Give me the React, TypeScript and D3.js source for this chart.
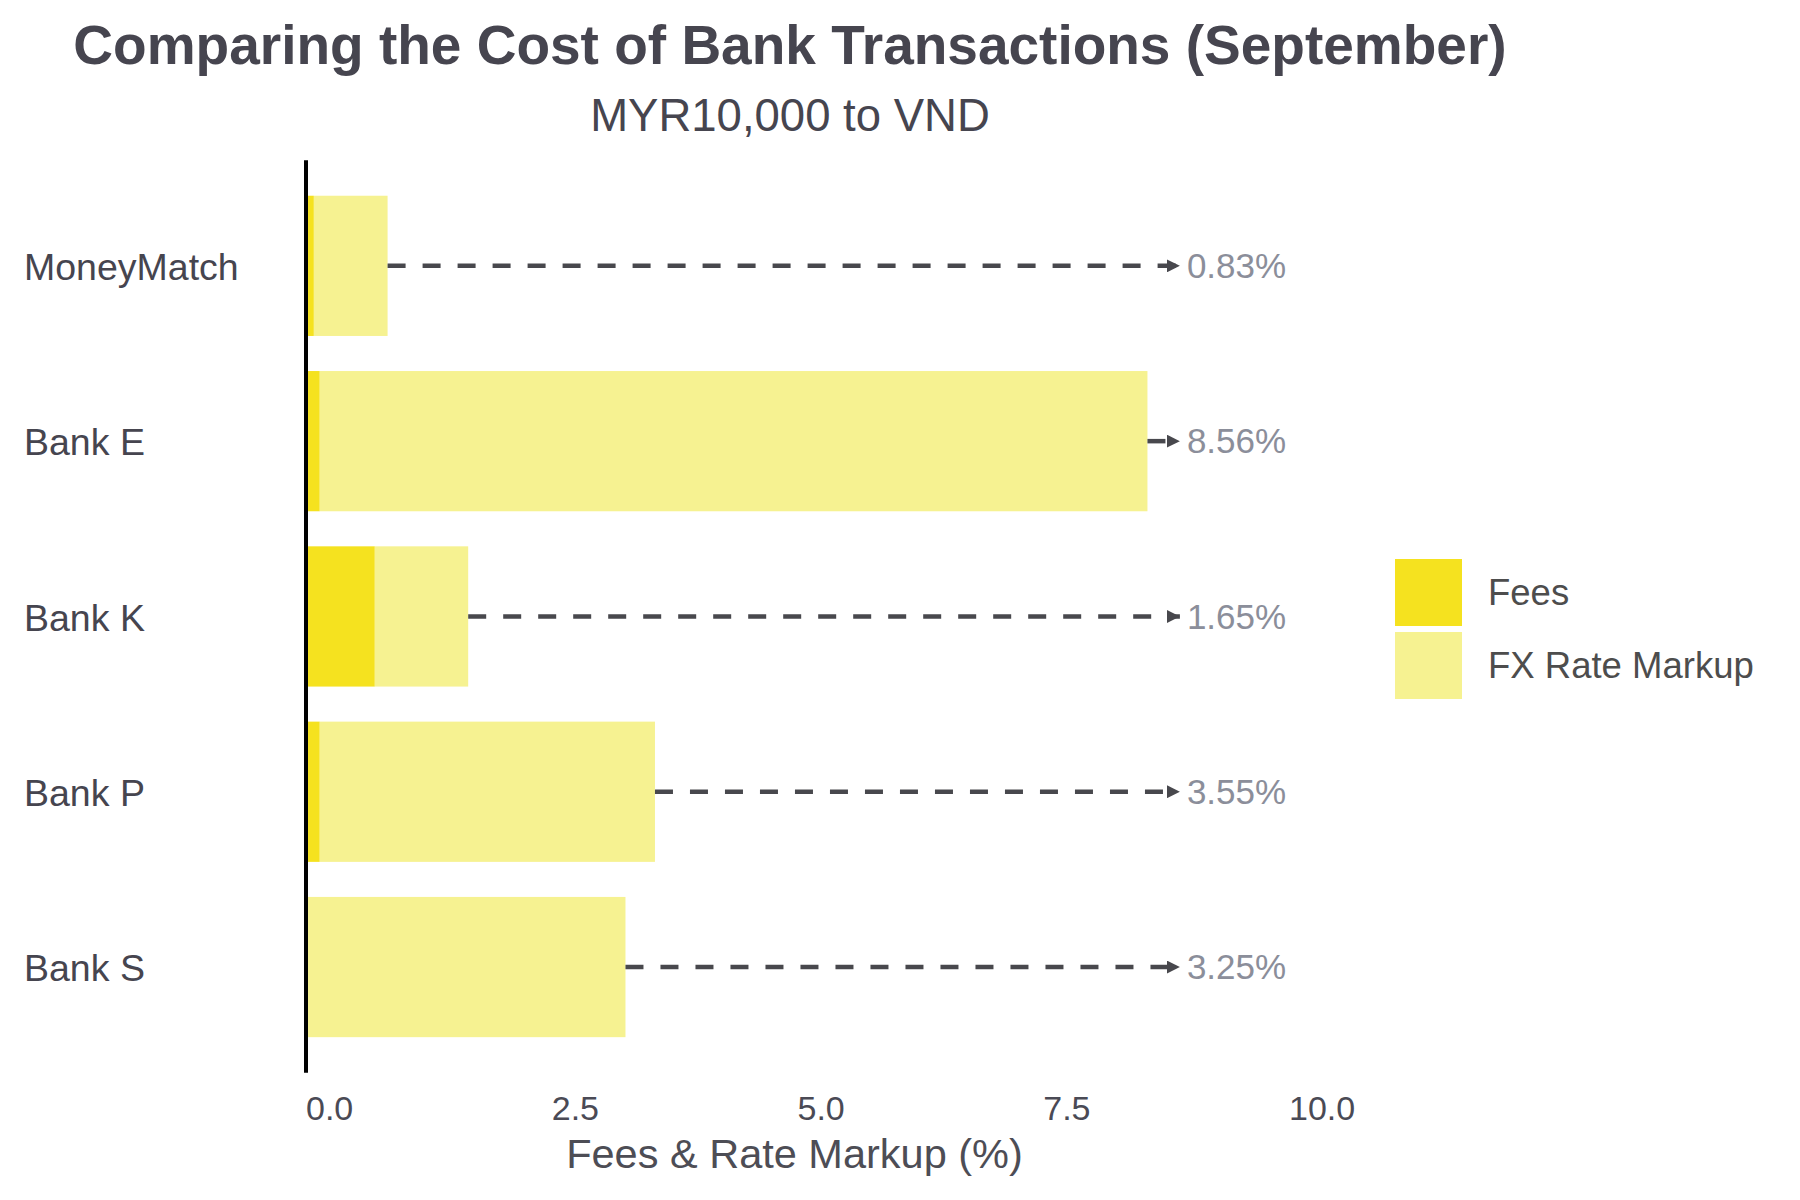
import React, { useEffect, useRef } from 'react';
import * as d3 from 'd3';

// Banks from top to bottom
const banks = ['MoneyMatch', 'Bank E', 'Bank K', 'Bank P', 'Bank S'];
// fee part (%) and FX rate markup part (%)
const fees = [0.08, 0.14, 0.7, 0.14, 0.0];
const fxMarkup = [0.75, 8.42, 0.95, 3.41, 3.25];
// printed totals
const totalLabels = ['0.83%', '8.56%', '1.65%', '3.55%', '3.25%'];
const xTicks = [0, 2.5, 5, 7.5, 10];
const arrowEnd = 8.89;

const seriesNames = ['Fees', 'FX Rate Markup'];
const seriesColors = ['#f5e21f', '#f6f291'];

const W = 1800;
const H = 1200;
const FONT = '"Liberation Sans", Arial, Helvetica, sans-serif';

const App: React.FC = () => {
  const svgRef = useRef<SVGSVGElement>(null);

  useEffect(() => {
    if (!svgRef.current) return;
    const svg = d3.select(svgRef.current);
    svg.selectAll('*').remove();

    const x = d3.scaleLinear().domain([0, 10]).range([306, 1289]);
    const y = d3.scaleBand<string>()
      .domain(banks)
      .range([178.2, 1054.7])
      .paddingInner(0.2)
      .paddingOuter(0.1);

    const rows = banks.map((b, i) => ({
      bank: b,
      fee: fees[i],
      fx: fxMarkup[i],
      total: fees[i] + fxMarkup[i],
      label: totalLabels[i],
    }));

    // title + subtitle
    svg.append('text')
      .attr('x', 790).attr('y', 64)
      .attr('text-anchor', 'middle')
      .attr('font-family', FONT)
      .attr('font-weight', 'bold')
      .attr('font-size', 55)
      .attr('fill', '#46454f')
      .text('Comparing the Cost of Bank Transactions (September)');

    svg.append('text')
      .attr('x', 790).attr('y', 131)
      .attr('text-anchor', 'middle')
      .attr('font-family', FONT)
      .attr('font-size', 45.5)
      .attr('fill', '#46454f')
      .text('MYR10,000 to VND');

    // stacked bars
    const stack = d3.stack<any>().keys(['fee', 'fx'])(rows);
    stack.forEach((layer, li) => {
      svg.append('g')
        .selectAll('rect')
        .data(layer)
        .enter()
        .append('rect')
        .attr('x', d => x(d[0]))
        .attr('y', d => y(d.data.bank)!)
        .attr('width', d => Math.max(0, x(d[1]) - x(d[0])))
        .attr('height', y.bandwidth())
        .attr('fill', seriesColors[li]);
    });

    // arrow marker
    svg.append('defs')
      .append('marker')
      .attr('id', 'arrowHead')
      .attr('viewBox', '0 0 10 10')
      .attr('refX', 10).attr('refY', 5)
      .attr('markerUnits', 'userSpaceOnUse')
      .attr('markerWidth', 13).attr('markerHeight', 13)
      .attr('orient', 'auto')
      .append('path')
      .attr('d', 'M0,0 L10,5 L0,10 Z')
      .attr('fill', '#48484d');

    // dashed leaders
    svg.append('g')
      .selectAll('line')
      .data(rows)
      .enter()
      .append('line')
      .attr('x1', d => x(d.total))
      .attr('x2', x(arrowEnd))
      .attr('y1', d => y(d.bank)! + y.bandwidth() / 2)
      .attr('y2', d => y(d.bank)! + y.bandwidth() / 2)
      .attr('stroke', '#48484d')
      .attr('stroke-width', 4.5)
      .attr('stroke-dasharray', '18 17')
      .attr('marker-end', 'url(#arrowHead)');

    // total labels
    svg.append('g')
      .selectAll('text')
      .data(rows)
      .enter()
      .append('text')
      .attr('x', x(arrowEnd) + 7)
      .attr('y', d => y(d.bank)! + y.bandwidth() / 2)
      .attr('dy', '0.35em')
      .attr('font-family', FONT)
      .attr('font-size', 35)
      .attr('fill', '#8b8e9a')
      .text(d => d.label);

    // category labels
    svg.append('g')
      .selectAll('text')
      .data(rows)
      .enter()
      .append('text')
      .attr('x', 24)
      .attr('y', d => y(d.bank)! + y.bandwidth() / 2)
      .attr('dy', '0.38em')
      .attr('font-family', FONT)
      .attr('font-size', 37.5)
      .attr('fill', '#46454f')
      .text(d => d.bank);

    // zero line
    svg.append('line')
      .attr('x1', x(0)).attr('x2', x(0))
      .attr('y1', y.range()[0] - 18)
      .attr('y2', y.range()[1] + 18)
      .attr('stroke', '#000')
      .attr('stroke-width', 4);

    // x tick labels (left aligned on tick)
    svg.append('g')
      .selectAll('text')
      .data(xTicks)
      .enter()
      .append('text')
      .attr('x', d => x(d))
      .attr('y', 1120)
      .attr('font-family', FONT)
      .attr('font-size', 34)
      .attr('fill', '#4a4a55')
      .text(d => d3.format('.1f')(d));

    svg.append('text')
      .attr('x', x(5) - 3).attr('y', 1168)
      .attr('text-anchor', 'middle')
      .attr('font-family', FONT)
      .attr('font-size', 41.5)
      .attr('fill', '#4d4d55')
      .text('Fees & Rate Markup (%)');

    // legend
    const legend = svg.append('g').attr('transform', 'translate(1395,559)');
    seriesNames.forEach((name, i) => {
      legend.append('rect')
        .attr('x', 0).attr('y', i * 73)
        .attr('width', 67).attr('height', 67)
        .attr('fill', seriesColors[i]);
      legend.append('text')
        .attr('x', 93).attr('y', i * 73 + 46)
        .attr('font-family', FONT)
        .attr('font-size', 36.5)
        .attr('fill', '#4d4d4d')
        .text(name);
    });
  }, []);

  return (
    <svg
      ref={svgRef}
      width={W}
      height={H}
      style={{ position: 'absolute', left: 0, top: 0, background: '#fff' }}
    />
  );
};

export default App;
